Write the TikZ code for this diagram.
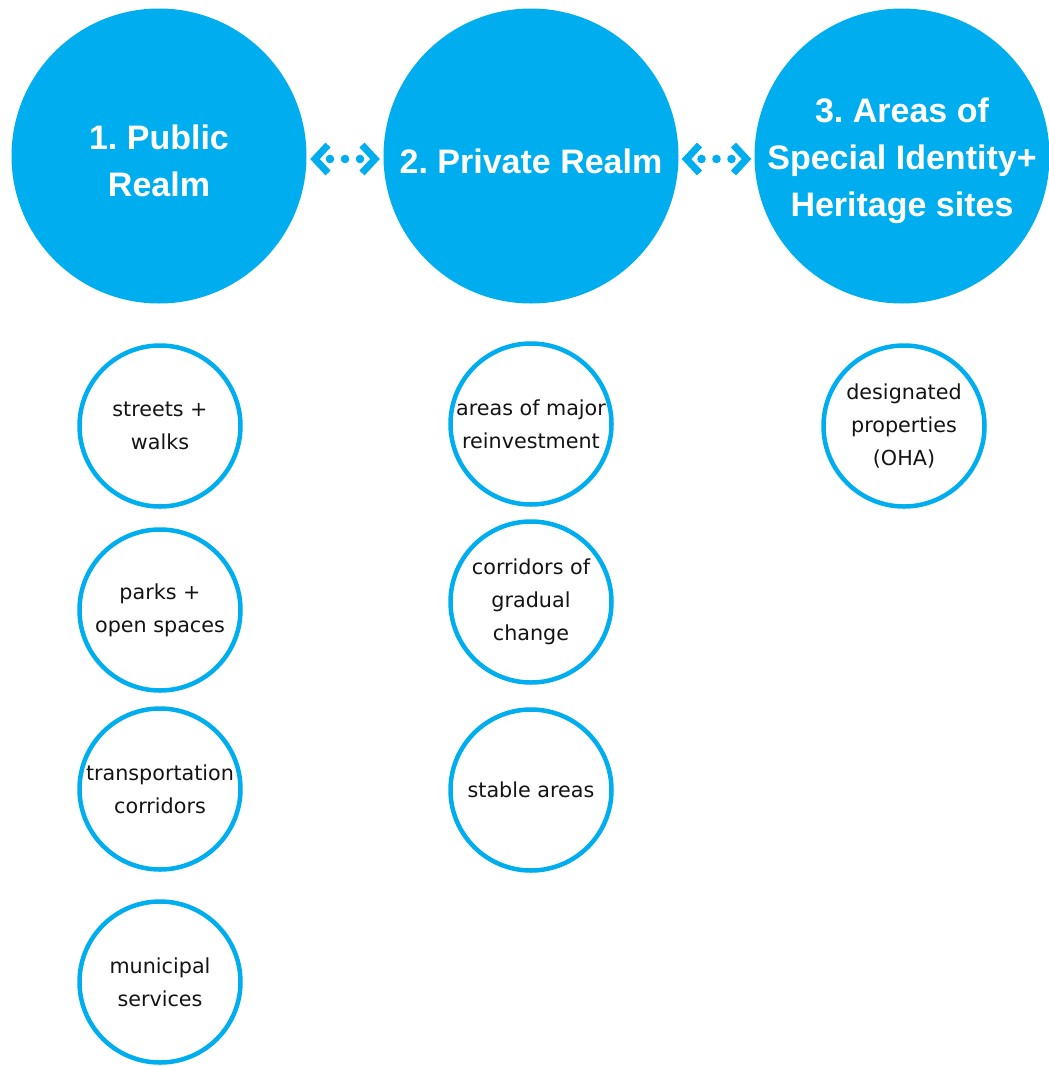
\documentclass[tikz,border=0pt]{standalone}
\usepackage{fontspec}
\usetikzlibrary{calc}
\newfontfamily\bigfont{Liberation Sans}
\newfontfamily\smallfont{DejaVu Sans}
\frenchspacing
\definecolor{realmblue}{HTML}{00AEEF}
\definecolor{labelink}{HTML}{141414}
\tikzset{
  bigcircle/.style={circle, fill=realmblue, draw=none, inner sep=0pt,
    minimum size=295pt},
  bigtext/.style={text=white, align=center, yshift=-5pt, inner sep=0pt,
    font=\bigfont\bfseries\fontsize{34}{47}\selectfont},
  smallcircle/.style={circle, draw=realmblue, line width=4.5pt, fill=white,
    inner sep=0pt, minimum size=161pt, text=labelink, align=center,
    font=\smallfont\fontsize{20.7}{33}\selectfont},
  linkarrow/.pic={
    \fill[realmblue] (-15,0) circle (4.3) (0,0) circle (4.3) (15,0) circle (4.3);
    \draw[realmblue, line width=7pt, line join=miter, line cap=butt]
      (-17,-14) -- (-30,0) -- (-17,14)
      (17,-14) -- (30,0) -- (17,14);
  }
}
\begin{document}
\begin{tikzpicture}[x=1pt, y=-1pt]
\useasboundingbox (0,0) rectangle (1049,1066);
% main realms
\node[bigcircle, label={[bigtext]center:1. Public\\Realm}] (c1) at (159,156) {};
\node[bigcircle, label={[bigtext]center:2. Private Realm}] (c2) at (531,156) {};
\node[bigcircle, label={[bigtext]center:3. Areas of\\Special Identity+\\Heritage sites}] (c3) at (902,156) {};
% links between realms
\coordinate (m12) at ($(c1.east)!0.5!(c2.west)+(0,3)$);
\coordinate (m23) at ($(c2.east)!0.5!(c3.west)+(0,3)$);
\pic at (m12) {linkarrow};
\pic at (m23) {linkarrow};
% public realm items
\node[smallcircle] (p1) at (160,426) {streets +\\walks};
\node[smallcircle] (p2) at (160,610) {parks +\\open spaces};
\node[smallcircle] (p3) at (160,789) {transportation\\corridors};
\node[smallcircle] (p4) at (160,982) {municipal\\services};
% private realm items
\node[smallcircle] (q1) at (531,424) {areas of major\\reinvestment};
\node[smallcircle] (q2) at (531,602) {corridors of\\gradual\\change};
\node[smallcircle] (q3) at (531,790) {stable areas};
% heritage items
\node[smallcircle] (h1) at (904,426) {designated\\properties\\(OHA)};
\end{tikzpicture}
\end{document}
